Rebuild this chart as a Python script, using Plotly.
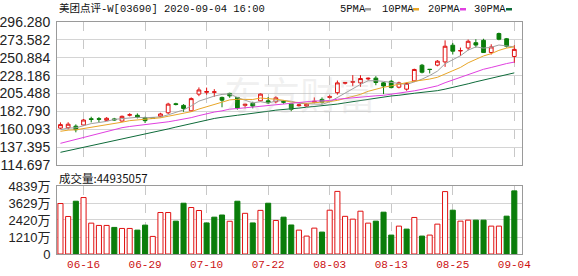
import plotly.graph_objects as go

# ---------------- data ----------------
dates = ["06-11","06-12","06-15","06-16","06-17","06-18","06-19","06-22","06-23","06-24",
         "06-26","06-29","06-30","07-02","07-03","07-06","07-07","07-08","07-09","07-10",
         "07-13","07-14","07-15","07-16","07-17","07-20","07-21","07-22","07-23","07-24",
         "07-27","07-28","07-29","07-30","07-31","08-03","08-04","08-05","08-06","08-07",
         "08-10","08-11","08-12","08-13","08-14","08-17","08-18","08-19","08-20","08-21",
         "08-24","08-25","08-26","08-27","08-28","08-31","09-01","09-02","09-03","09-04"]

opens = [161.5,162,164,165.5,173.5,173.5,171.5,173.2,170.5,178,
         177.8,175,174.5,176.5,181,192.5,190.4,183.5,204.7,207,
         207,200.5,205.6,200.5,190.4,193,196.2,196.2,195,195.5,
         192.5,190,189.5,194.5,198,200.5,206.5,218.5,219.8,219,
         224,225,219,221,213.5,211,221.5,241.4,236.2,241.5,
         245.6,266.8,259.5,263.3,270,273,257.5,281.6,275,252.5]
highs = [168.8,169,166.3,173,176,175.5,175.5,174.5,177.5,180.5,
         180.2,176,175.2,181,193.7,193.7,192,200.5,213.2,213,
         211,201.5,206.5,201,192.5,195,205.5,201,202,197,
         193,192,193.5,200.5,200.5,203.5,222,220,228.8,228.7,
         225.8,227.5,220,222.5,220.5,219.5,237,243,236.5,248,
         273,269.7,263.8,274,274.4,275,268,282.8,276,266.8]
lows = [160.3,160,156.2,164.5,168.8,169,170.5,171,169.5,176.4,
        173.9,168,173.5,175.2,179.3,190.4,182.3,182.3,202.1,204,
        201.3,188,200,185,186.6,186.6,195.5,192,193,192.5,
        183,189,188.5,193,192.5,199,204,217,214.8,214,
        222,216,204.7,212,212,209,220,231,231,240,
        239.3,255,253.2,260.4,263.8,257,255,273.1,263.8,244.4]
closes = [166,166.5,159.5,171.8,172.5,172.8,174,172,176.5,178.5,
          175.5,171,174,179.5,192,191.5,186.5,199,210,208,
          207.6,197,202.5,187,191.8,189.5,204.7,193.7,200,194.5,
          185.5,191,192,195.5,194.5,201.5,219,219.5,220.5,224.5,
          224.8,219.5,215,213,219,218.2,236,232.5,236,246.5,
          265.5,259.2,260,271.8,267,257.5,264.6,274.4,265.5,261.5]
# closes before the visible window (estimated from where the MA lines start)
warmup_closes = [104,106,105,108,110,109,107,108,111,112,
                 115,117,116,118,121,120,123,138,148,153,
                 152,155,157,156,157.5,156,158,158.5,159]
# volume in 万 shares
volumes = [3592,2670,3755,4017,2196,2033,2033,1892,1818,1818,
           1700,2055,1252,2952,2952,2338,3613,3307,3095,2210,
           2621,2775,2330,3755,2895,2210,3105,3613,2385,2621,
           2065,1700,1275,1842,1559,3117,4455,2680,2480,3046,
           2196,2338,2976,1346,1984,1771,2600,1275,1346,2125,
           4442,3117,2338,2409,2409,2409,1984,1984,2692,4493.5057]

tick_dates = ["06-16","06-29","07-10","07-22","08-03","08-13","08-25","09-04"]
price_ticks = ["114.697","137.395","160.093","182.790","205.488","228.186","250.884","273.582","296.280"]
vol_ticks = ["0","1210万","2420万","3629万","4839万"]
ma_periods = [5, 10, 20, 30]
ma_names = ["5PMA", "10PMA", "20PMA", "30PMA"]
title_text = "美团点评-W[03690] 2020-09-04 16:00"
vol_title = "成交量:44935057"

# ---------------- styling ----------------
RED = "#e01010"
GREEN = "#0a7d0a"
ma_colors = ["#a0a0a0", "#e8a628", "#e040e0", "#0e6b3a"]
W, H = 578, 276
L, R, T, B = 57, 56, 22, 22
PW, PH = W - L - R, H - T - B

def px_x(px):
    return (px - L) / PW

def px_y(py):
    return (H - B - py) / PH

n = len(closes)
xs = list(range(n))
all_closes = warmup_closes + closes
mas = []
for p in ma_periods:
    vals = []
    for i in range(n):
        j = i + len(warmup_closes)
        seg = all_closes[j - p + 1:j + 1]
        vals.append(sum(seg) / p)
    mas.append(vals)

prev = [warmup_closes[-1]] + closes[:-1]
up = [c >= pc for c, pc in zip(closes, prev)]
vol_vals = [v * 10000 for v in volumes]

fig = go.Figure()
fig.add_trace(go.Candlestick(
    x=xs, open=opens, high=highs, low=lows, close=closes,
    increasing=dict(line=dict(color=RED, width=1), fillcolor="white"),
    decreasing=dict(line=dict(color=GREEN, width=1), fillcolor=GREEN),
    whiskerwidth=0, xaxis="x", yaxis="y", showlegend=False, hoverinfo="skip"))
for name, vals, col in zip(ma_names, mas, ma_colors):
    fig.add_trace(go.Scatter(x=xs, y=vals, mode="lines", name=name,
                             line=dict(color=col, width=1), xaxis="x", yaxis="y",
                             showlegend=False, hoverinfo="skip"))
fig.add_trace(go.Bar(
    x=xs, y=vol_vals, width=0.66,
    marker=dict(color=["white" if u else GREEN for u in up],
                line=dict(color=[RED if u else GREEN for u in up], width=1)),
    xaxis="x2", yaxis="y2", showlegend=False, hoverinfo="skip"))

ptv = [float(t) for t in price_ticks]
vtv = [float(t.replace("万", "")) * 10000 for t in vol_ticks]
tick_idx = [dates.index(d) for d in tick_dates]

GRID = "#d4d4d4"
BORDER = "#9a9a9a"
tickfont = dict(family="Liberation Sans, Arial", size=14, color="#222")

fig.update_layout(
    width=W, height=H, margin=dict(l=L, r=R, t=T, b=B, autoexpand=False),
    paper_bgcolor="white", plot_bgcolor="white",
    xaxis=dict(domain=[0, 1], anchor="y", range=[-0.45, 60.0], tickvals=tick_idx,
               showticklabels=False, showgrid=True, gridcolor="#c8c8c8", griddash="dash",
               gridwidth=1, zeroline=False, showline=True, mirror=True, linecolor=BORDER,
               ticks="", rangeslider=dict(visible=False), automargin=False),
    yaxis=dict(domain=[px_y(165), 1], range=[ptv[0], ptv[-1]], tickvals=ptv, ticktext=price_ticks,
               showgrid=True, gridcolor=GRID, zeroline=False, showline=True, mirror=True,
               linecolor=BORDER, ticks="", tickfont=tickfont, ticklabelstandoff=3,
               automargin=False),
    xaxis2=dict(domain=[0, 1], anchor="y2", matches="x", range=[-0.45, 60.0],
                tickvals=tick_idx, ticktext=tick_dates, showgrid=True, gridcolor="#c8c8c8",
                griddash="dash", zeroline=False, showline=True, mirror=True, linecolor=BORDER,
                ticks="", tickfont=dict(family="Liberation Mono, DejaVu Sans Mono", size=11, color="#cc1111"),
                tickangle=0, automargin=False),
    yaxis2=dict(domain=[0, px_y(186)], range=[0, vtv[-1]], tickvals=vtv, ticktext=vol_ticks,
                showgrid=True, gridcolor=GRID, zeroline=False, showline=True, mirror=True,
                linecolor=BORDER, ticks="", tickfont=dict(family="Liberation Sans, Noto Sans CJK SC", size=13, color="#222"),
                ticklabelstandoff=3, automargin=False),
)

ann = []
ann.append(dict(text=title_text, x=px_x(57), y=px_y(9), xref="paper", yref="paper",
                xanchor="left", yanchor="middle", showarrow=False,
                font=dict(family="Liberation Mono, Noto Sans CJK SC", size=10.5, color="#111")))
ann.append(dict(text=vol_title, x=px_x(57), y=px_y(178), xref="paper", yref="paper",
                xanchor="left", yanchor="middle", showarrow=False,
                font=dict(family="Noto Sans CJK SC, Liberation Mono", size=11.5, color="#111")))
ann.append(dict(text="东方财富", x=px_x(300), y=px_y(92), xref="paper", yref="paper",
                xanchor="center", yanchor="middle", showarrow=False,
                font=dict(family="Noto Sans CJK SC", size=38, color="rgba(190,190,190,0.22)")))
leg_x = [338, 380, 426, 472]
mark_x = [365, 413, 460, 506]
shapes = []
for name, lx, mx, col in zip(ma_names, leg_x, mark_x, ma_colors):
    ann.append(dict(text=name, x=px_x(lx), y=px_y(9), xref="paper", yref="paper",
                    xanchor="left", yanchor="middle", showarrow=False,
                    font=dict(family="Liberation Mono, DejaVu Sans Mono", size=10.5, color="#111")))
    shapes.append(dict(type="rect", xref="paper", yref="paper",
                       x0=px_x(mx), x1=px_x(mx + 6), y0=px_y(10.5), y1=px_y(8),
                       fillcolor=col, line=dict(width=0)))
fig.update_layout(annotations=ann, shapes=shapes)

fig.write_html("out.html")
